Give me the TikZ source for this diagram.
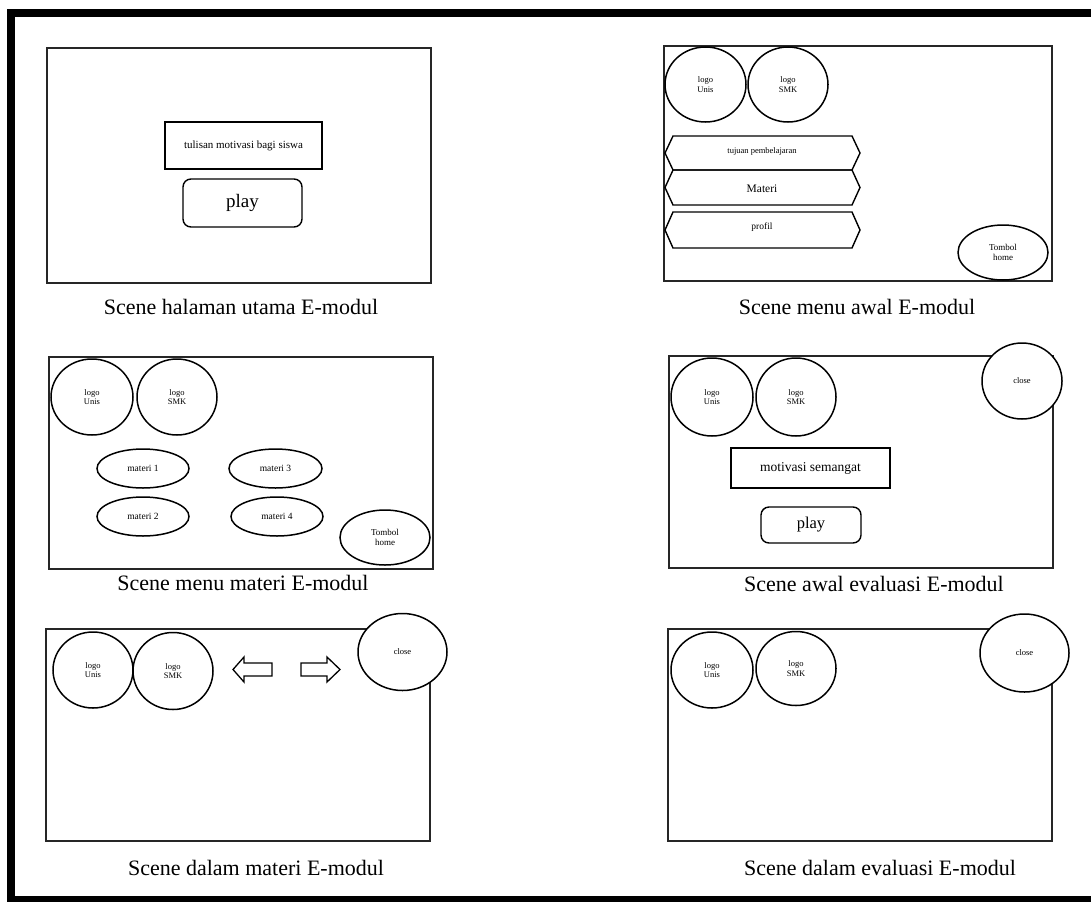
\documentclass[tikz,border=0pt]{standalone}
\usepackage{fontspec}
\setmainfont{Liberation Serif}
\usetikzlibrary{shapes.geometric}
\begin{document}
\begin{tikzpicture}[x=1pt,y=-1pt,
  panel/.style={draw=black!85,line width=1.4pt,inner sep=0pt},
  circ/.style={ellipse,draw,line width=1.5pt,fill=white,inner sep=0pt,align=center,font=\fontsize{8.5}{9.5}\selectfont},
  small/.style={font=\fontsize{9.5}{11}\selectfont},
  caption/.style={font=\fontsize{22}{26}\selectfont,inner sep=0pt},
  txtbox/.style={draw,line width=1.4pt,inner sep=0pt},
  playbox/.style={draw,line width=1.4pt,inner sep=0pt,rounded corners=8pt},
  hexa/.style={draw,line width=1.4pt,line join=miter},
  blockarrow/.style={draw,line width=1.3pt,line join=miter}]
\useasboundingbox (0,0) rectangle (1091,902);
\fill[white] (0,0) rectangle (1091,902);
% outer frame (top, left, bottom)
\fill[black] (7,9) rectangle (1091,17);
\fill[black] (7,9) rectangle (15,902);
\fill[black] (7,896) rectangle (1091,902);

% ---------- Panel 1 ----------
\node[panel,minimum width=384pt,minimum height=235pt] (p1) at (239,165.5) {};
\node[txtbox,minimum width=157pt,minimum height=47pt,font=\fontsize{11}{13}\selectfont] (p1txt) at (243.5,145.5) {tulisan motivasi bagi siswa};
\node[playbox,minimum width=119pt,minimum height=48pt,font=\fontsize{19}{22}\selectfont] (p1play) at (242.5,203) {play};
\node[caption] (c1) at (241,307) {Scene halaman utama E-modul};

% ---------- Panel 2 ----------
\node[panel,minimum width=388pt,minimum height=235pt] (p2) at (858,163.5) {};
\node[circ,minimum width=81pt,minimum height=75pt] (p2l1) at (705.5,84.5) {logo\\Unis};
\node[circ,minimum width=80pt,minimum height=75pt] (p2l2) at (788,84.5) {logo\\SMK};
\draw[hexa] (665,153) -- (673,136) -- (852,136) -- (860,153) -- (852,170) -- (673,170) -- cycle;
\draw[hexa] (665,187.5) -- (673,170) -- (852,170) -- (860,187.5) -- (852,205) -- (673,205) -- cycle;
\draw[hexa] (665,230) -- (673,212) -- (852,212) -- (860,230) -- (852,248) -- (673,248) -- cycle;
\node[font=\fontsize{8.5}{10}\selectfont] (p2tuj) at (762,151) {tujuan pembelajaran};
\node[font=\fontsize{11.5}{13}\selectfont] (p2mat) at (762,189) {Materi};
\node[small] (p2pro) at (762,227) {profil};
\node[circ,minimum width=90pt,minimum height=55pt,font=\fontsize{9}{10}\selectfont] (p2tom) at (1003,252.5) {Tombol\\home};
\node[caption] (c2) at (857,307) {Scene menu awal E-modul};

% ---------- Panel 3 ----------
\node[panel,minimum width=384pt,minimum height=212pt] (p3) at (241,463) {};
\node[circ,minimum width=82pt,minimum height=76pt] (p3l1) at (92,397) {logo\\Unis};
\node[circ,minimum width=80pt,minimum height=76pt] (p3l2) at (177,397) {logo\\SMK};
\node[circ,small,minimum width=92pt,minimum height=39pt] (m1) at (143,468.5) {materi 1};
\node[circ,small,minimum width=93pt,minimum height=39pt] (m3) at (275.5,468.5) {materi 3};
\node[circ,small,minimum width=92pt,minimum height=39pt] (m2) at (143,516.5) {materi 2};
\node[circ,small,minimum width=92pt,minimum height=39pt] (m4) at (277,516.5) {materi 4};
\node[circ,minimum width=90pt,minimum height=55pt,font=\fontsize{9}{10}\selectfont] (p3tom) at (385,537.5) {Tombol\\home};
\node[caption] (c3) at (243,583) {Scene menu materi E-modul};

% ---------- Panel 4 ----------
\node[panel,minimum width=384pt,minimum height=212pt] (p4) at (861,462) {};
\node[circ,minimum width=82pt,minimum height=78pt] (p4l1) at (712,397) {logo\\Unis};
\node[circ,minimum width=80pt,minimum height=78pt] (p4l2) at (796,397) {logo\\SMK};
\node[circ,minimum width=80pt,minimum height=76pt] (p4close) at (1022,381) {close};
\node[txtbox,minimum width=159pt,minimum height=40pt,font=\fontsize{13.5}{16}\selectfont] (p4mot) at (810.5,468) {motivasi semangat};
\node[playbox,minimum width=100pt,minimum height=36pt,font=\fontsize{16.5}{19}\selectfont] (p4play) at (811,525) {play};
\node[caption] (c4) at (874,584) {Scene awal evaluasi E-modul};

% ---------- Panel 5 ----------
\node[panel,minimum width=384pt,minimum height=212pt] (p5) at (238,735) {};
\node[circ,minimum width=80pt,minimum height=76pt] (p5l1) at (93,670) {logo\\Unis};
\node[circ,minimum width=80pt,minimum height=77pt] (p5l2) at (173,671) {logo\\SMK};
\node[circ,minimum width=89pt,minimum height=77pt] (p5close) at (402.5,652) {close};
\draw[blockarrow] (233,669.5) -- (244,657) -- (244,663) -- (272,663) -- (272,676) -- (244,676) -- (244,682) -- cycle;
\draw[blockarrow] (340,669.5) -- (327,657) -- (327,663) -- (301,663) -- (301,676) -- (327,676) -- (327,682) -- cycle;
\node[caption] (c5) at (256,868) {Scene dalam materi E-modul};

% ---------- Panel 6 ----------
\node[panel,minimum width=384pt,minimum height=212pt] (p6) at (860,735) {};
\node[circ,minimum width=82pt,minimum height=76pt] (p6l1) at (712,670) {logo\\Unis};
\node[circ,minimum width=80pt,minimum height=74pt] (p6l2) at (796,668.5) {logo\\SMK};
\node[circ,minimum width=89pt,minimum height=78pt] (p6close) at (1024.5,653) {close};
\node[caption] (c6) at (880,868) {Scene dalam evaluasi E-modul};
\end{tikzpicture}
\end{document}
